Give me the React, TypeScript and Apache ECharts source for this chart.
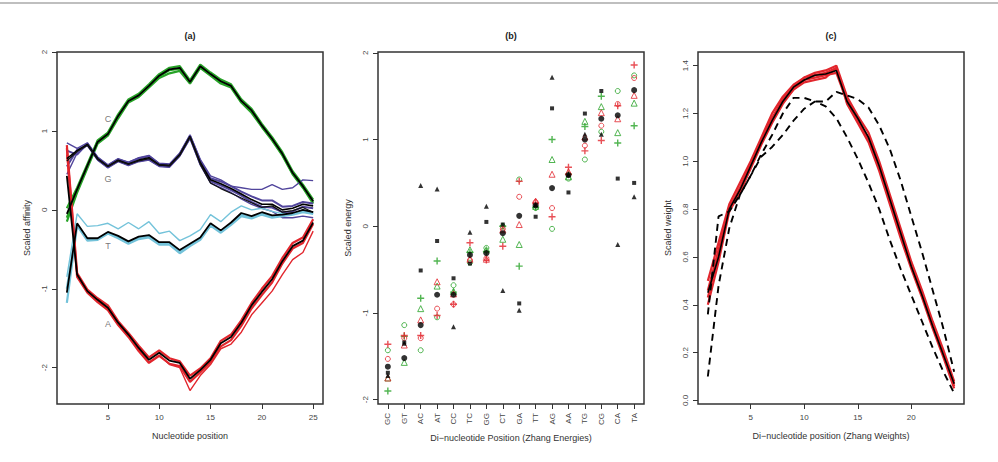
import React, { useEffect, useRef } from 'react';
import * as echarts from 'echarts';

// ---------- Panel (a) ----------
const positionsA = [1, 2, 3, 4, 5, 6, 7, 8, 9, 10, 11, 12, 13, 14, 15, 16, 17, 18, 19, 20, 21, 22, 23, 24, 25];
const xTicksA = [5, 10, 15, 20, 25];
const yTicksA = [-2, -1, 0, 1, 2];

const cBlack = [-0.05, 0.26, 0.56, 0.86, 0.96, 1.19, 1.38, 1.45, 1.57, 1.70, 1.78, 1.80, 1.62, 1.82, 1.72, 1.63, 1.57, 1.38, 1.26, 1.07, 0.90, 0.71, 0.47, 0.30, 0.11];
const cGreen1 = [-0.15, 0.22, 0.53, 0.84, 0.94, 1.16, 1.36, 1.43, 1.55, 1.67, 1.73, 1.76, 1.60, 1.80, 1.70, 1.60, 1.55, 1.36, 1.23, 1.05, 0.88, 0.69, 0.45, 0.28, 0.08];
const cGreen2 = [0.02, 0.28, 0.58, 0.88, 0.98, 1.21, 1.40, 1.47, 1.59, 1.72, 1.80, 1.82, 1.64, 1.84, 1.74, 1.65, 1.59, 1.40, 1.28, 1.09, 0.92, 0.73, 0.49, 0.32, 0.13];
const cGreen3 = [-0.10, 0.24, 0.55, 0.87, 0.97, 1.18, 1.37, 1.44, 1.56, 1.69, 1.77, 1.79, 1.61, 1.81, 1.71, 1.62, 1.56, 1.37, 1.25, 1.06, 0.89, 0.70, 0.46, 0.29, 0.10];

const gBlack = [0.65, 0.75, 0.83, 0.65, 0.55, 0.63, 0.58, 0.63, 0.66, 0.57, 0.56, 0.70, 0.93, 0.60, 0.38, 0.33, 0.27, 0.20, 0.13, 0.07, 0.07, 0.00, 0.02, 0.07, 0.05];
const gBlack2 = [0.62, 0.74, 0.82, 0.64, 0.55, 0.62, 0.58, 0.62, 0.65, 0.57, 0.56, 0.69, 0.92, 0.58, 0.34, 0.27, 0.21, 0.15, 0.09, 0.03, 0.05, -0.03, -0.01, 0.03, -0.03];
const gPurple1 = [0.85, 0.78, 0.85, 0.67, 0.57, 0.65, 0.60, 0.66, 0.69, 0.59, 0.58, 0.72, 0.95, 0.64, 0.43, 0.38, 0.30, 0.28, 0.26, 0.26, 0.32, 0.26, 0.28, 0.38, 0.37];
const gPurple2 = [0.45, 0.72, 0.82, 0.63, 0.53, 0.61, 0.56, 0.61, 0.63, 0.55, 0.54, 0.68, 0.90, 0.57, 0.34, 0.28, 0.22, 0.14, 0.07, 0.02, -0.02, -0.10, -0.10, -0.08, -0.10];
const gPurple3 = [0.75, 0.70, 0.84, 0.66, 0.56, 0.64, 0.60, 0.65, 0.68, 0.58, 0.57, 0.71, 0.94, 0.62, 0.40, 0.36, 0.30, 0.23, 0.17, 0.12, 0.12, 0.04, 0.05, 0.10, 0.08];
const gPurple4 = [0.55, 0.76, 0.82, 0.64, 0.54, 0.62, 0.57, 0.62, 0.64, 0.56, 0.55, 0.69, 0.92, 0.58, 0.36, 0.31, 0.25, 0.18, 0.10, 0.04, 0.03, -0.03, -0.02, 0.04, 0.02];

const tBlack = [-1.05, -0.17, -0.36, -0.36, -0.28, -0.33, -0.40, -0.34, -0.32, -0.41, -0.41, -0.51, -0.43, -0.35, -0.17, -0.26, -0.16, -0.04, -0.08, -0.03, -0.07, -0.06, -0.04, 0.00, -0.03];
const tCyan1 = [-0.85, -0.05, -0.21, -0.20, -0.17, -0.24, -0.16, -0.24, -0.15, -0.30, -0.27, -0.39, -0.33, -0.25, -0.06, -0.15, -0.03, 0.05, 0.00, 0.02, -0.02, -0.05, -0.05, 0.00, -0.05];
const tCyan2 = [-1.18, -0.20, -0.39, -0.38, -0.30, -0.36, -0.43, -0.37, -0.35, -0.44, -0.44, -0.55, -0.46, -0.38, -0.20, -0.29, -0.19, -0.08, -0.11, -0.06, -0.10, -0.08, -0.06, -0.03, -0.05];
const tCyan3 = [-1.00, -0.18, -0.37, -0.37, -0.29, -0.35, -0.42, -0.36, -0.33, -0.43, -0.42, -0.53, -0.45, -0.36, -0.19, -0.27, -0.18, -0.06, -0.10, -0.05, -0.09, -0.07, -0.05, -0.02, -0.04];

const aBlack = [0.43, -0.82, -1.03, -1.14, -1.24, -1.43, -1.58, -1.75, -1.90, -1.81, -1.91, -1.94, -2.14, -2.03, -1.90, -1.69, -1.61, -1.43, -1.21, -1.04, -0.88, -0.65, -0.46, -0.39, -0.16];
const aRed1 = [0.82, -0.80, -1.01, -1.12, -1.21, -1.41, -1.56, -1.72, -1.87, -1.78, -1.88, -1.92, -2.10, -2.01, -1.88, -1.66, -1.58, -1.40, -1.18, -1.00, -0.84, -0.61, -0.42, -0.35, -0.12];
const aRed2 = [0.78, -0.85, -1.05, -1.17, -1.27, -1.46, -1.61, -1.79, -1.94, -1.85, -1.95, -1.98, -2.18, -2.06, -1.93, -1.73, -1.65, -1.47, -1.25, -1.08, -0.92, -0.68, -0.49, -0.42, -0.18];
const aRed3 = [0.70, -0.83, -1.04, -1.15, -1.25, -1.45, -1.60, -1.77, -1.93, -1.84, -1.96, -2.00, -2.29, -2.10, -1.96, -1.76, -1.70, -1.55, -1.33, -1.18, -1.03, -0.82, -0.63, -0.54, -0.27];

const baseLetters = ['C', 'G', 'T', 'A'];
const letterX = [5, 5, 5, 5];
const letterY = [1.15, 0.39, -0.46, -1.45];

// ---------- Panel (b) ----------
const dinucs = ['GC', 'GT', 'AC', 'AT', 'CC', 'TC', 'GG', 'CT', 'GA', 'TT', 'AG', 'AA', 'TG', 'CG', 'CA', 'TA'];
const dinucIdx = [1, 2, 3, 4, 5, 6, 7, 8, 9, 10, 11, 12, 13, 14, 15, 16];
const yTicksB = [-2, -1, 0, 1, 2];
const blackCircle = [-1.62, -1.52, -1.14, -0.79, -0.79, -0.33, -0.31, -0.08, 0.12, 0.24, 0.44, 0.59, 1.00, 1.24, 1.28, 1.57];
const blackSquare = [-1.69, -1.34, -0.51, -0.17, -0.60, -0.43, 0.05, 0.02, -0.89, 0.11, 1.36, 0.39, 1.30, 1.56, 0.55, 0.50];
const blackTriangle = [-1.72, -1.35, 0.47, 0.43, -1.16, -0.07, 0.23, -0.74, -0.97, 0.25, 1.72, 0.60, 1.06, 1.06, -0.21, 0.34];
const redCircle = [-1.53, -1.29, -1.29, -0.95, -0.90, -0.39, -0.37, -0.03, 0.34, 0.28, 0.21, 0.60, 0.93, 1.16, 1.41, 1.71];
const redTriangle = [-1.75, -1.37, -1.08, -0.64, -0.78, -0.38, -0.38, -0.04, 0.02, 0.29, 0.60, 0.63, 1.03, 1.31, 1.24, 1.51];
const redPlus = [-1.36, -1.26, -1.26, -1.03, -0.90, -0.19, -0.39, -0.23, 0.52, 0.27, 0.11, 0.68, 0.87, 0.99, 1.39, 1.86];
const greenCircle = [-1.43, -1.14, -1.43, -1.05, -0.68, -0.42, -0.25, 0.00, 0.54, 0.21, -0.03, 0.55, 0.77, 1.09, 1.56, 1.74];
const greenTriangle = [-1.75, -1.57, -0.95, -0.69, -0.75, -0.27, -0.27, -0.15, -0.21, 0.23, 0.77, 0.57, 1.21, 1.38, 1.08, 1.42];
const greenPlus = [-1.90, -1.27, -0.83, -0.40, -0.76, -0.30, -0.29, 0.00, -0.46, 0.22, 1.00, 0.60, 1.15, 1.50, 0.96, 1.16];

// ---------- Panel (c) ----------
const positionsC = [1, 2, 3, 4, 5, 6, 7, 8, 9, 10, 11, 12, 13, 14, 15, 16, 17, 18, 19, 20, 21, 22, 23, 24];
const xTicksC = [5, 10, 15, 20];
const yTicksC = [0, 0.2, 0.4, 0.6, 0.8, 1.0, 1.2, 1.4];
const wBlack = [0.45, 0.60, 0.80, 0.88, 0.98, 1.08, 1.17, 1.25, 1.31, 1.34, 1.36, 1.365, 1.38, 1.25, 1.18, 1.10, 0.98, 0.84, 0.70, 0.56, 0.44, 0.31, 0.19, 0.07];
const wRed1 = [0.50, 0.66, 0.82, 0.91, 1.00, 1.10, 1.20, 1.27, 1.32, 1.35, 1.37, 1.38, 1.40, 1.27, 1.19, 1.12, 1.00, 0.86, 0.72, 0.58, 0.46, 0.33, 0.21, 0.08];
const wRed2 = [0.40, 0.58, 0.79, 0.87, 0.97, 1.07, 1.16, 1.24, 1.30, 1.33, 1.34, 1.35, 1.39, 1.24, 1.16, 1.08, 0.96, 0.82, 0.68, 0.55, 0.43, 0.30, 0.18, 0.05];
const wRed3 = [0.46, 0.63, 0.80, 0.89, 0.99, 1.09, 1.18, 1.26, 1.31, 1.35, 1.36, 1.37, 1.39, 1.26, 1.17, 1.09, 0.97, 0.83, 0.69, 0.56, 0.44, 0.31, 0.19, 0.06];
const wRed4 = [0.43, 0.61, 0.81, 0.88, 0.98, 1.08, 1.18, 1.25, 1.30, 1.34, 1.35, 1.36, 1.37, 1.25, 1.17, 1.10, 0.99, 0.85, 0.71, 0.57, 0.45, 0.32, 0.20, 0.07];
const wDash1 = [0.36, 0.77, 0.79, 0.86, 0.94, 1.03, 1.11, 1.20, 1.265, 1.265, 1.25, 1.25, 1.29, 1.275, 1.26, 1.225, 1.15, 1.05, 0.92, 0.77, 0.62, 0.46, 0.30, 0.12];
const wDash2 = [0.10, 0.48, 0.72, 0.86, 0.94, 1.02, 1.06, 1.11, 1.17, 1.22, 1.25, 1.23, 1.18, 1.10, 1.01, 0.91, 0.80, 0.67, 0.55, 0.44, 0.33, 0.22, 0.12, 0.03];

// ---------- styling ----------
const FONT = '"Liberation Sans", Arial, Helvetica, sans-serif';
const GREEN = '#27a327';
const PURPLE = '#51459c';
const CYAN = '#74c3da';
const RED = '#e2262d';
const TEXT = '#333333';
const PLUS = 'path://M4,0H6V4H10V6H6V10H4V6H0V4H4Z';

const pairs = (xs: number[], ys: number[]) => xs.map((x, i) => [x, ys[i]]);

const axisBase = (extra: any) => ({
  type: 'value',
  axisLine: { show: false, onZero: false, lineStyle: { color: TEXT } },
  splitLine: { show: false },
  nameLocation: 'middle',
  nameTextStyle: { color: TEXT, fontSize: 9, fontFamily: FONT },
  ...extra,
});

function lineSeries(idx: number, xs: number[], ys: number[], color: string, width: number, extra: any = {}) {
  return {
    type: 'line',
    xAxisIndex: idx,
    yAxisIndex: idx,
    data: pairs(xs, ys),
    showSymbol: false,
    symbol: 'none',
    itemStyle: { color },
    lineStyle: { color, width, ...(extra.lineStyle || {}) },
    z: extra.z ?? 2,
    silent: true,
  };
}

function scatterSeries(ys: number[], symbol: string, color: string, filled: boolean, size: number) {
  return {
    type: 'scatter',
    xAxisIndex: 1,
    yAxisIndex: 1,
    data: pairs(dinucIdx, ys),
    symbol,
    symbolSize: size,
    itemStyle: filled
      ? { color, borderWidth: 0 }
      : { color: 'rgba(255,255,255,0)', borderColor: color, borderWidth: 1 },
    silent: true,
  };
}

function buildOption() {
  const tickStyle = { show: true, length: 5, lineStyle: { color: TEXT, width: 1 } };
  const labelStyle = { color: '#444', fontSize: 8, fontFamily: FONT };
  const grids = [
    { left: 57, top: 52, width: 266, height: 352 },
    { left: 378, top: 52, width: 266, height: 352 },
    { left: 698, top: 52, width: 266, height: 352 },
  ].map((g) => ({ ...g, show: true, borderColor: TEXT, borderWidth: 1.5, backgroundColor: 'transparent', containLabel: false }));

  const xAxis = [
    axisBase({
      gridIndex: 0, min: 0.04, max: 25.96, position: 'bottom',
      axisTick: { ...tickStyle, customValues: xTicksA },
      axisLabel: { ...labelStyle, customValues: xTicksA, margin: 9 },
      name: 'Nucleotide position', nameGap: 27,
    }),
    axisBase({
      gridIndex: 1, min: 0.4, max: 16.6, position: 'bottom',
      axisTick: { ...tickStyle, customValues: dinucIdx },
      axisLabel: { ...labelStyle, customValues: dinucIdx, rotate: 90, margin: 9, formatter: (v: number) => dinucs[Math.round(v) - 1] },
      name: 'Di\u2212nucleotide Position (Zhang Energies)', nameGap: 27,
    }),
    axisBase({
      gridIndex: 2, min: 0.08, max: 24.92, position: 'bottom',
      axisTick: { ...tickStyle, customValues: xTicksC },
      axisLabel: { ...labelStyle, customValues: xTicksC, margin: 9 },
      name: 'Di\u2212nucleotide position (Zhang Weights)', nameGap: 27,
    }),
  ];
  const yAxis = [
    axisBase({
      gridIndex: 0, min: -2.46, max: 2.0, position: 'left',
      axisTick: { ...tickStyle, customValues: yTicksA },
      axisLabel: { ...labelStyle, customValues: yTicksA, rotate: 90, margin: 9 },
      name: 'Scaled affinity', nameGap: 26,
    }),
    axisBase({
      gridIndex: 1, min: -2.05, max: 2.01, position: 'left',
      axisTick: { ...tickStyle, customValues: yTicksB },
      axisLabel: { ...labelStyle, customValues: yTicksB, rotate: 90, margin: 9 },
      name: 'Scaled energy', nameGap: 26,
    }),
    axisBase({
      gridIndex: 2, min: -0.015, max: 1.457, position: 'left',
      axisTick: { ...tickStyle, customValues: yTicksC },
      axisLabel: { ...labelStyle, customValues: yTicksC, rotate: 90, margin: 9, formatter: (v: number) => v.toFixed(1) },
      name: 'Scaled weight', nameGap: 26,
    }),
  ];

  const series: any[] = [
    // panel a colored
    lineSeries(0, positionsA, cGreen1, GREEN, 2.2),
    lineSeries(0, positionsA, cGreen2, GREEN, 2.2),
    lineSeries(0, positionsA, cGreen3, GREEN, 2.2),
    lineSeries(0, positionsA, gPurple1, PURPLE, 1.4),
    lineSeries(0, positionsA, gPurple2, PURPLE, 1.4),
    lineSeries(0, positionsA, gPurple3, PURPLE, 2),
    lineSeries(0, positionsA, gPurple4, PURPLE, 2),
    lineSeries(0, positionsA, tCyan1, CYAN, 1.4),
    lineSeries(0, positionsA, tCyan2, CYAN, 2.2),
    lineSeries(0, positionsA, tCyan3, CYAN, 2.2),
    lineSeries(0, positionsA, aRed1, RED, 2.2),
    lineSeries(0, positionsA, aRed2, RED, 2.2),
    lineSeries(0, positionsA, aRed3, RED, 1.4),
    // panel a black
    lineSeries(0, positionsA, cBlack, '#000', 1.8, { z: 3 }),
    lineSeries(0, positionsA, gBlack, '#000', 1.6, { z: 3 }),
    lineSeries(0, positionsA, gBlack2, '#111', 1.3, { z: 3 }),
    lineSeries(0, positionsA, tBlack, '#000', 1.8, { z: 3 }),
    lineSeries(0, positionsA, aBlack, '#000', 1.8, { z: 3 }),
    {
      type: 'scatter', xAxisIndex: 0, yAxisIndex: 0, symbolSize: 1, silent: true, z: 4,
      itemStyle: { color: 'rgba(0,0,0,0)' },
      data: baseLetters.map((l, i) => ({ value: [letterX[i], letterY[i]], name: l })),
      label: { show: true, position: 'inside', formatter: '{b}', color: '#555555', fontSize: 9, fontFamily: FONT },
    },
    // panel b
    scatterSeries(greenPlus, PLUS, GREEN, true, 7),
    scatterSeries(greenTriangle, 'triangle', GREEN, false, 6),
    scatterSeries(greenCircle, 'circle', GREEN, false, 5),
    scatterSeries(redPlus, PLUS, RED, true, 7),
    scatterSeries(redTriangle, 'triangle', RED, false, 6),
    scatterSeries(redCircle, 'circle', RED, false, 5),
    scatterSeries(blackTriangle, 'triangle', '#000', true, 5),
    scatterSeries(blackSquare, 'rect', '#000', true, 4),
    scatterSeries(blackCircle, 'circle', '#000', true, 6),
    // panel c
    lineSeries(2, positionsC, wRed1, RED, 2.2),
    lineSeries(2, positionsC, wRed2, RED, 2.2),
    lineSeries(2, positionsC, wRed3, RED, 2.2),
    lineSeries(2, positionsC, wRed4, RED, 2.2),
    lineSeries(2, positionsC, wBlack, '#000', 1.6, { z: 3 }),
    lineSeries(2, positionsC, wDash1, '#000', 1.9, { z: 3, lineStyle: { type: [7, 5] } }),
    lineSeries(2, positionsC, wDash2, '#000', 1.9, { z: 3, lineStyle: { type: [7, 5] } }),
  ];

  const titleText = (x: number, t: string) => ({
    type: 'text', x, y: 36,
    style: { text: t, align: 'center', verticalAlign: 'middle', font: `bold 9px ${FONT}`, fill: '#222' },
  });

  return {
    animation: false,
    backgroundColor: '#fff',
    grid: grids,
    xAxis,
    yAxis,
    series,
    graphic: [
      { type: 'line', shape: { x1: 0, y1: 3, x2: 998, y2: 3 }, style: { stroke: '#aaa', lineWidth: 1.5 } },
      titleText(190, '(a)'),
      titleText(511, '(b)'),
      titleText(831, '(c)'),
    ],
  };
}

export default function App() {
  const ref = useRef<HTMLDivElement>(null);
  useEffect(() => {
    const chart = echarts.init(ref.current!, null, { renderer: 'svg' });
    chart.setOption(buildOption() as any);
    return () => chart.dispose();
  }, []);
  return <div ref={ref} style={{ position: 'fixed', left: 0, top: 0, width: 998, height: 462 }} />;
}
